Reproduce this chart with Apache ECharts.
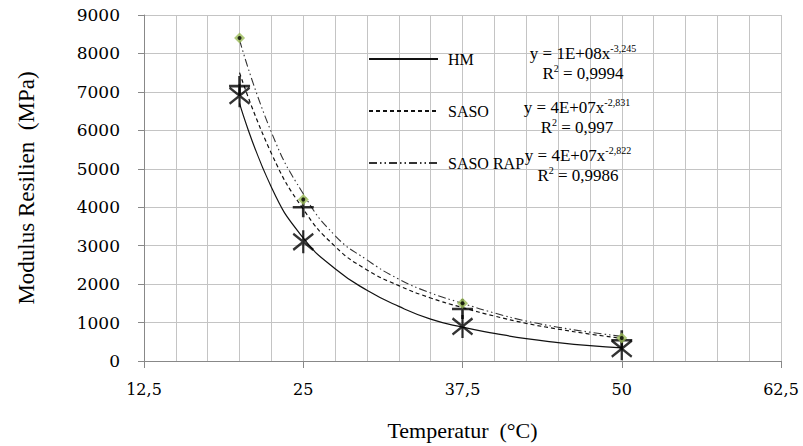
<!DOCTYPE html>
<html>
<head>
<meta charset="utf-8">
<script src="https://cdn.jsdelivr.net/npm/echarts@6/dist/echarts.min.js"></script>
<style>
  html, body { margin: 0; padding: 0; background: #fff; }
  #echarts { width: 803px; height: 446px; }
</style>
</head>
<body>
<div id="echarts"></div>
<script>
// measured points (temperature in °C, modulus in MPa)
var tempPoints = [20, 25, 37.5, 50];
var hmPoints = [6900, 3100, 900, 320];
var sasoPoints = [7150, 4000, 1350, 540];
var sasoRapPoints = [8400, 4200, 1500, 600];

// trend curves, every 2,5 °C
var trendX = [20, 22.5, 25, 27.5, 30, 32.5, 35, 37.5, 40, 42.5, 45, 47.5, 50];
var hmTrend = [6700, 4520, 3200, 2400, 1840, 1420, 1090, 880, 720, 580, 480, 400, 340];
var sasoTrend = [7500, 5400, 3950, 2980, 2370, 1960, 1640, 1390, 1170, 980, 830, 700, 590];
var sasoRapTrend = [8350, 5950, 4350, 3260, 2630, 2130, 1770, 1500, 1250, 1040, 880, 750, 640];

var xTicks = [12.5, 25, 37.5, 50, 62.5];
var xTickLabels = ['12,5', '25', '37,5', '50', '62,5'];

var legendNames = ['HM', 'SASO', 'SASO RAP'];
var equations = [
    ['y = 1E+08x', '-3,245', '0,9994'],
    ['y = 4E+07x', '-2,831', '0,997'],
    ['y = 4E+07x', '-2,822', '0,9986']
];

function pairs(xs, ys) {
    return xs.map(function (x, i) { return [x, ys[i]]; });
}

var myChart = echarts.init(document.getElementById('echarts'), null, { renderer: 'svg' });

var serif = 'Liberation Serif';
var gridColor = '#c4c4c4';
var starPath = 'path://M0,-10 L0,10 M-9,-7 L9,7 M-9,7 L9,-7';
var plusPath = 'path://M-10,0 L10,0 M0,-10 L0,10';

var eqPos = [[583, 43], [577, 97], [578, 145]];
var graphics = equations.map(function (eq, i) {
    return {
        type: 'text',
        x: eqPos[i][0],
        y: eqPos[i][1],
        z: 100,
        style: {
            text: '{a|' + eq[0] + '}{s|' + eq[1] + '}\n{a|R}{s|2}{a| = ' + eq[2] + '}',
            textAlign: 'center',
            align: 'center',
            textVerticalAlign: 'top',
            verticalAlign: 'top',
            rich: {
                a: { fontFamily: serif, fontSize: 17, lineHeight: 20, fill: '#000', color: '#000' },
                s: { fontFamily: serif, fontSize: 10, lineHeight: 20, verticalAlign: 'top', fill: '#000', color: '#000' }
            }
        }
    };
});

var option = {
    animation: false,
    grid: { left: 144, right: 22, top: 15, bottom: 85 },
    legend: {
        data: legendNames,
        orient: 'vertical',
        left: 363,
        top: 46,
        itemWidth: 69,
        itemHeight: 14,
        itemGap: 36,
        selectedMode: false,
        itemStyle: { opacity: 0 },
        textStyle: { fontFamily: serif, fontSize: 16, color: '#000', padding: [0, 0, 0, 5] }
    },
    xAxis: {
        type: 'value',
        min: 12.5,
        max: 62.5,
        interval: 12.5,
        name: 'Temperatur  (°C)',
        nameLocation: 'middle',
        nameGap: 58,
        nameTextStyle: { fontFamily: serif, fontSize: 22, color: '#000' },
        axisLine: { show: true, lineStyle: { color: '#888', width: 1 } },
        axisTick: { show: true, length: 7, lineStyle: { color: '#888' } },
        axisLabel: {
            margin: 20,
            fontFamily: 'DejaVu Serif',
            fontSize: 16,
            color: '#000',
            formatter: function (v) {
                var i = xTicks.indexOf(v);
                return i >= 0 ? xTickLabels[i] : '';
            }
        },
        splitLine: { show: true, lineStyle: { color: gridColor, width: 1 } },
        minorTick: { show: false, splitNumber: 5 },
        minorSplitLine: { show: true, lineStyle: { color: gridColor, width: 1 } }
    },
    yAxis: {
        type: 'value',
        min: 0,
        max: 9000,
        interval: 1000,
        name: 'Modulus Resilien  (MPa)',
        nameLocation: 'middle',
        nameGap: 106,
        nameTextStyle: { fontFamily: serif, fontSize: 23, color: '#000' },
        axisLine: { show: true, lineStyle: { color: '#888', width: 1 } },
        axisTick: { show: true, length: 6, lineStyle: { color: '#888' } },
        axisLabel: {
            margin: 24,
            fontFamily: 'DejaVu Serif',
            fontSize: 17,
            color: '#000',
            formatter: function (v) { return String(v); }
        },
        splitLine: { show: true, lineStyle: { color: gridColor, width: 1 } }
    },
    graphic: graphics,
    series: [
        {
            name: 'HM',
            type: 'line',
            data: pairs(trendX, hmTrend),
            smooth: 0.5,
            symbol: 'none',
            z: 3,
            itemStyle: { color: '#111' },
            lineStyle: { color: '#111', width: 1.2, type: 'solid' }
        },
        {
            name: 'SASO',
            type: 'line',
            data: pairs(trendX, sasoTrend),
            smooth: 0.5,
            symbol: 'none',
            z: 3,
            itemStyle: { color: '#111' },
            lineStyle: { color: '#111', width: 1.2, type: [4, 3] }
        },
        {
            name: 'SASO RAP',
            type: 'line',
            data: pairs(trendX, sasoRapTrend),
            smooth: 0.5,
            symbol: 'none',
            z: 3,
            itemStyle: { color: '#333' },
            lineStyle: { color: '#333', width: 1.1, type: [8, 3, 1.5, 3, 1.5, 3] }
        },
        {
            name: 'HM data',
            type: 'scatter',
            data: pairs(tempPoints, hmPoints),
            symbol: starPath,
            symbolSize: [20, 23],
            z: 5,
            itemStyle: { color: 'none', borderColor: '#000', borderWidth: 2.4 }
        },
        {
            name: 'SASO data',
            type: 'scatter',
            data: pairs(tempPoints, sasoPoints),
            symbol: plusPath,
            symbolSize: [21, 20],
            z: 5,
            itemStyle: { color: 'none', borderColor: '#000', borderWidth: 2.6 }
        },
        {
            name: 'SASO RAP data',
            type: 'scatter',
            data: pairs(tempPoints, sasoRapPoints),
            symbol: 'diamond',
            symbolSize: 11,
            z: 6,
            itemStyle: { color: '#9bbb59' }
        },
        {
            name: 'SASO RAP dot',
            type: 'scatter',
            data: pairs(tempPoints, sasoRapPoints),
            symbol: 'circle',
            symbolSize: 4,
            z: 7,
            itemStyle: { color: '#000' }
        }
    ]
};

myChart.setOption(option);
</script>
</body>
</html>
